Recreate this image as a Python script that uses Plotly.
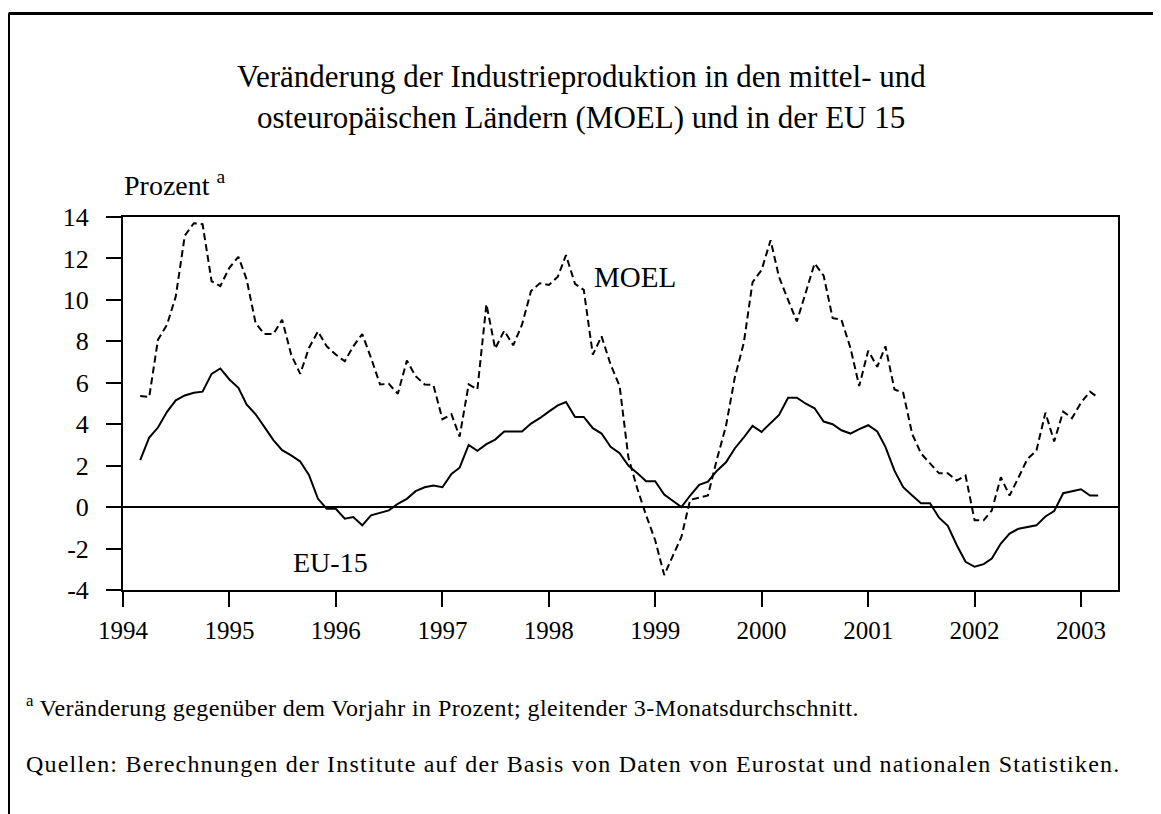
import pandas as pd
import plotly.graph_objects as go

# monthly values, March 1994 .. March 2003
start_month = "1994-03-01"
n_months = 109

moel = [5.36, 5.31, 8.08, 8.8, 10.16, 13.1, 13.7, 13.65, 10.9, 10.67,
        11.55, 12.08, 11.0, 8.88, 8.35, 8.35, 9.04, 7.36, 6.43, 7.68,
        8.48, 7.76, 7.36, 7.04, 7.76, 8.35, 7.2, 5.92, 5.95, 5.47,
        7.07, 6.32, 5.92, 5.89, 4.24, 4.48, 3.4, 5.92, 5.68, 9.79,
        7.65, 8.51, 7.81, 8.8, 10.43, 10.8, 10.72, 11.12, 12.16, 10.77,
        10.48, 7.36, 8.24, 6.88, 5.84, 2.4, 0.88, -0.4, -1.6, -3.28,
        -2.4, -1.44, 0.35, 0.45, 0.56, 2.32, 3.92, 6.24, 7.92, 10.85,
        11.44, 12.88, 11.1, 10.0, 8.96, 10.37, 11.76, 11.17, 9.12, 9.04,
        7.68, 5.84, 7.55, 6.77, 7.76, 5.68, 5.52, 3.52, 2.59, 2.11,
        1.63, 1.63, 1.28, 1.52, -0.64, -0.64, -0.16, 1.44, 0.56, 1.44,
        2.32, 2.72, 4.56, 3.17, 4.61, 4.29, 5.04, 5.57, 5.28]

eu15 = [2.27, 3.36, 3.84, 4.6, 5.15, 5.39, 5.52, 5.57, 6.43, 6.69,
        6.16, 5.76, 4.96, 4.48, 3.87, 3.23, 2.75, 2.5, 2.2, 1.55,
        0.4, -0.08, -0.08, -0.56, -0.48, -0.88, -0.4, -0.29, -0.16, 0.16,
        0.4, 0.77, 0.96, 1.04, 0.96, 1.6, 1.9, 3.0, 2.72, 3.04,
        3.26, 3.65, 3.65, 3.65, 4.03, 4.29, 4.61, 4.91, 5.07, 4.35,
        4.35, 3.81, 3.55, 2.91, 2.6, 2.0, 1.63, 1.25, 1.25, 0.61,
        0.32, 0.0, 0.56, 1.07, 1.23, 1.76, 2.16, 2.83, 3.36, 3.92,
        3.63, 4.08, 4.45, 5.28, 5.28, 4.99, 4.77, 4.13, 4.0, 3.71,
        3.55, 3.76, 3.95, 3.65, 2.91, 1.76, 0.96, 0.56, 0.19, 0.19,
        -0.51, -0.9, -1.84, -2.64, -2.88, -2.75, -2.48, -1.76, -1.28, -1.04,
        -0.96, -0.88, -0.45, -0.19, 0.67, 0.77, 0.86, 0.56, 0.56]

y_tick_vals = [-4, -2, 0, 2, 4, 6, 8, 10, 12, 14]
y_tick_text = ["-4", "-2", "0", "2", "4", "6", "8", "10", "12", "14"]

title_lines = ["Veränderung der Industrieproduktion in den mittel- und",
               "osteuropäischen Ländern (MOEL) und in der EU 15"]
footnote = "Veränderung gegenüber dem Vorjahr in Prozent; gleitender 3-Monatsdurchschnitt."
source = "Quellen: Berechnungen der Institute auf der Basis von Daten von Eurostat und nationalen Statistiken."

dates = pd.date_range(start_month, periods=n_months, freq="MS")

# page body has an 8px margin, so the canvas is a bit smaller than the window
W, H = 1153, 806
L, R, T, B = 115, 1110, 209, 582
FONT = "Liberation Serif, Times New Roman, serif"


def px_x(x):
    return (x - L) / (R - L)


def px_y(y):
    return (B - y) / (B - T)


fig = go.Figure()
fig.add_trace(go.Scatter(x=dates, y=moel, mode="lines", name="MOEL",
                         line=dict(color="black", width=2, dash="7px,4px")))
fig.add_trace(go.Scatter(x=dates, y=eu15, mode="lines", name="EU-15",
                         line=dict(color="black", width=2)))

fig.update_xaxes(type="date", range=["1994-01-01", "2003-05-08"],
                 tick0="1994-01-01", dtick="M12", tickformat="%Y",
                 ticks="outside", ticklen=15, tickwidth=2, tickcolor="black",
                 showline=True, linecolor="black", linewidth=2, mirror=True,
                 showgrid=False, zeroline=False, ticklabelstandoff=2,
                 tickfont=dict(family=FONT, size=25, color="black"))
fig.update_yaxes(range=[-4, 14], tickvals=y_tick_vals, ticktext=y_tick_text,
                 ticks="outside", ticklen=15, tickwidth=2, tickcolor="black",
                 showline=True, linecolor="black", linewidth=2, mirror=True,
                 showgrid=False, zeroline=True, zerolinecolor="black", zerolinewidth=2,
                 ticklabelstandoff=12,
                 tickfont=dict(family=FONT, size=26, color="black"))

ann = [
    dict(x=px_x(573), y=px_y(68), text=title_lines[0], size=31, xanchor="center"),
    dict(x=px_x(573), y=px_y(109), text=title_lines[1], size=31, xanchor="center"),
    dict(x=px_x(114), y=px_y(176), text="Prozent <sup>a</sup>", size=28, xanchor="left"),
    dict(x=px_x(584), y=px_y(269), text="MOEL", size=29, xanchor="left"),
    dict(x=px_x(283), y=px_y(554), text="EU-15", size=28, xanchor="left"),
    dict(x=px_x(16), y=px_y(698),
         text='<sup>a</sup> <span style="letter-spacing:0.4px">' + footnote + '</span>',
         size=24, xanchor="left"),
    dict(x=px_x(16), y=px_y(756),
         text='<span style="letter-spacing:1.2px">' + source + '</span>',
         size=24, xanchor="left"),
]
for a in ann:
    fig.add_annotation(x=a["x"], y=a["y"], xref="paper", yref="paper",
                       text=a["text"], showarrow=False, xanchor=a["xanchor"], yanchor="middle",
                       font=dict(family=FONT, size=a["size"], color="black"))

# outer frame: top and left edge
fig.add_shape(type="line", xref="paper", yref="paper", x0=px_x(0.5), x1=px_x(W),
              y0=px_y(5.5), y1=px_y(5.5), line=dict(color="black", width=3))
fig.add_shape(type="line", xref="paper", yref="paper", x0=px_x(0.5), x1=px_x(0.5),
              y0=px_y(5.5), y1=px_y(H), line=dict(color="black", width=3))

fig.update_layout(width=W, height=H, autosize=False, showlegend=False,
                  margin=dict(l=L, r=W - R, t=T, b=H - B),
                  paper_bgcolor="white", plot_bgcolor="white",
                  font=dict(family=FONT, color="black"))

fig.write_html("out.html")
